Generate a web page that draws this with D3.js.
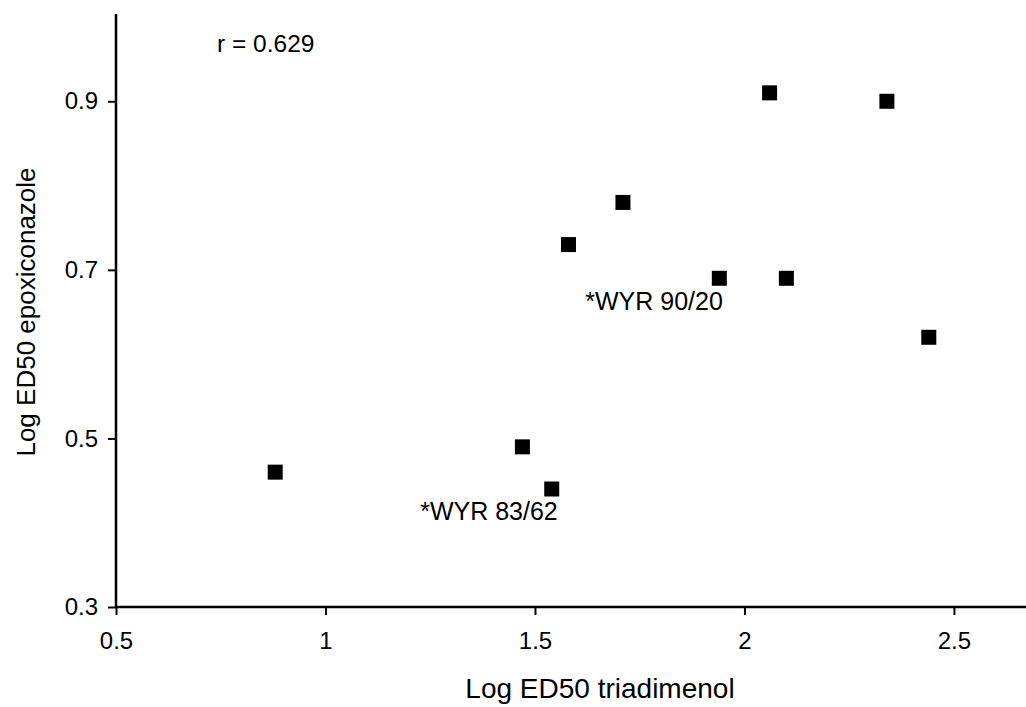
<!doctype html>
<html>
<head>
    <meta charset="UTF-8">
    <title>ED50 scatter</title>
    <script src="https://d3js.org/d3.v7.min.js"></script>
    <style>
        body { margin: 0; background: #fff; }
        text { font-family: "Liberation Sans", Arial, sans-serif; fill: #000; }
    </style>
</head>
<body>
<svg id="chart" width="1026" height="707"></svg>

<script>
    // values
    var triadimenol = [0.88, 1.47, 1.54, 1.58, 1.71, 1.94, 2.06, 2.10, 2.34, 2.44];
    var epoxiconazole = [0.46, 0.49, 0.44, 0.73, 0.78, 0.69, 0.91, 0.69, 0.90, 0.62];
    var xTicks = [0.5, 1, 1.5, 2, 2.5];
    var yTicks = [0.3, 0.5, 0.7, 0.9];
    var notes = [
        {text: "*WYR 83/62", x: 1.226, y: 0.403},
        {text: "*WYR 90/20", x: 1.62, y: 0.652}
    ];

    var svg = d3.select("#chart");
    var x = d3.scaleLinear().domain([0.5, 2.672]).range([116, 1026]);
    var y = d3.scaleLinear().domain([0.3, 1.0]).range([607, 17]);

    var xAxis = d3.axisBottom(x).tickValues(xTicks).tickSize(8).tickPadding(17)
        .tickFormat(function(d){ return d; });
    var yAxis = d3.axisLeft(y).tickValues(yTicks).tickSize(8).tickPadding(10)
        .tickFormat(function(d){ return d; });

    var gx = svg.append("g").attr("transform", "translate(0,607)").call(xAxis);
    var gy = svg.append("g").attr("transform", "translate(116,0)").call(yAxis);

    [gx, gy].forEach(function(g){
        g.selectAll("path").attr("stroke", "#000").attr("stroke-width", 2.5);
        g.selectAll("line").attr("stroke", "#000").attr("stroke-width", 2);
        g.selectAll("text").style("font-size", "24px")
            .style("font-family", "'Liberation Sans', Arial, sans-serif");
    });
    gy.select("path").attr("d", "M0,607V14");
    gx.select("path").attr("d", "M116,0H1026");

    var pts = triadimenol.map(function(d, i){ return [d, epoxiconazole[i]]; });
    svg.selectAll("rect.pt").data(pts).enter().append("rect")
        .attr("class", "pt")
        .attr("x", function(d){ return x(d[0]) - 7.5; })
        .attr("y", function(d){ return y(d[1]) - 7.5; })
        .attr("width", 15)
        .attr("height", 15)
        .attr("fill", "#000");

    svg.selectAll("text.note").data(notes).enter().append("text")
        .attr("class", "note")
        .attr("x", function(d){ return x(d.x); })
        .attr("y", function(d){ return y(d.y); })
        .style("font-size", "25px")
        .text(function(d){ return d.text; });

    svg.append("text")
        .attr("x", 217).attr("y", 52)
        .style("font-size", "24.5px")
        .text("r = 0.629");

    svg.append("text")
        .attr("x", 600).attr("y", 698)
        .attr("text-anchor", "middle")
        .style("font-size", "28px")
        .text("Log ED50 triadimenol");

    svg.append("text")
        .attr("transform", "translate(35,312) rotate(-90)")
        .attr("text-anchor", "middle")
        .style("font-size", "26px")
        .text("Log ED50 epoxiconazole");
</script>
</body>
</html>
